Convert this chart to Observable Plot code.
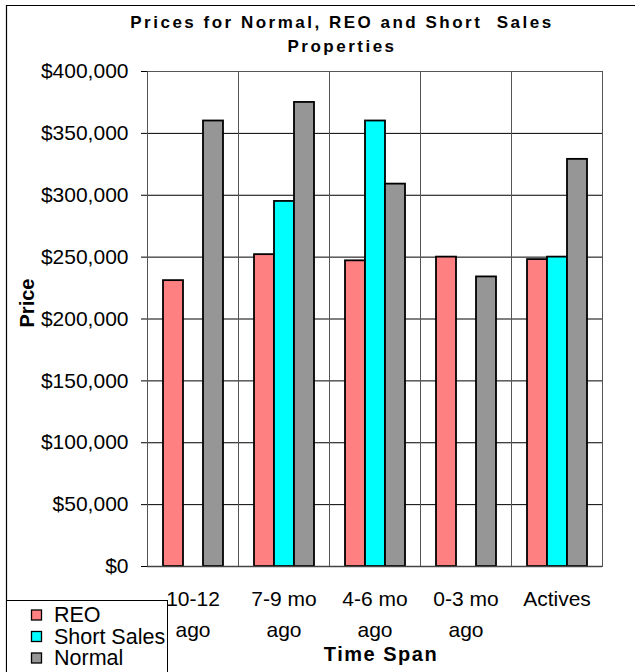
<!DOCTYPE html>
<html>
<head>
<meta charset="utf-8">
<script src="https://cdn.jsdelivr.net/npm/d3@7"></script>
<script src="https://cdn.jsdelivr.net/npm/@observablehq/plot@0.6"></script>
<style>
  html, body { margin: 0; padding: 0; background: #fff; }
  #wrap { position: relative; width: 635px; height: 672px; overflow: hidden; background: #fff; }
  #wrap svg { position: absolute; left: 0; top: 0; }
</style>
</head>
<body>
<div id="wrap"></div>
<script>
// ---- data ----
const categories = ["10-12 ago", "7-9 mo ago", "4-6 mo ago", "0-3 mo ago", "Actives"];
const tickLabels = ["10-12\nago", "7-9 mo\nago", "4-6 mo\nago", "0-3 mo\nago", "Actives"];
const series = ["REO", "Short Sales", "Normal"];
const reo = [231000, 252000, 247000, 250000, 248000];
const shortSales = [null, 295000, 360000, null, 250000];
const normal = [360000, 375000, 309000, 234000, 329000];
const colors = ["#FF8080", "#00FFFF", "#969696"];
const yTicks = [0, 50000, 100000, 150000, 200000, 250000, 300000, 350000, 400000];
const titleLines = ["Prices for Normal, REO and Short  Sales", "Properties"];
const xTitle = "Time Span";
const yTitle = "Price";

const valuesBySeries = [reo, shortSales, normal];
const rows = [];
categories.forEach((c, i) => {
  series.forEach((s, j) => {
    const v = valuesBySeries[j][i];
    if (v != null) rows.push({category: c, series: s, value: v});
  });
});

const font = "'Liberation Sans', Arial, sans-serif";

const chart = Plot.plot({
  width: 635,
  height: 672,
  marginLeft: 145,
  marginRight: 32,
  marginTop: 71,
  marginBottom: 106,
  style: {fontFamily: font, fontSize: "21px", color: "black", background: "transparent"},
  fx: {domain: categories, padding: 0, axis: null, label: null},
  x: {domain: series, paddingInner: 0, paddingOuter: 0.75, axis: null},
  y: {
    domain: [0, 400000],
    ticks: yTicks,
    tickFormat: d => "$" + d3.format(",")(d),
    tickSize: 6,
    tickPadding: 13,
    label: null
  },
  color: {domain: series, range: colors},
  marks: [
    Plot.ruleY(yTicks.filter(v => v > 0 && v < 400000), {stroke: "#000", strokeWidth: 1}),
    Plot.frame({stroke: "#555", strokeWidth: 1}),
    Plot.barY(rows, {
      fx: "category",
      x: "series",
      y: "value",
      fill: "series",
      stroke: "#000",
      strokeWidth: 1.8
    }),
    Plot.ruleY([0], {stroke: "#444", strokeWidth: 1.5}),
    Plot.text(categories, {
      fx: d => d,
      text: (d, i) => tickLabels[i],
      frameAnchor: "bottom",
      lineAnchor: "top",
      dy: 17,
      fontSize: 21,
      lineHeight: 1.48,
      fill: "#000"
    })
  ]
});

document.getElementById("wrap").appendChild(chart);

// ---- overlay: titles, border, legend ----
const ov = d3.select("#wrap").append("svg")
  .attr("width", 635).attr("height", 672)
  .style("pointer-events", "none")
  .style("font-family", font);

// outer chart border (left & top)
ov.append("path").attr("d", "M6.5,672 V5.5 H640").attr("fill", "none").attr("stroke", "#000").attr("stroke-width", 1.2);

// title
ov.selectAll("text.title").data(titleLines).join("text")
  .attr("class", "title")
  .attr("x", 342).attr("y", (d, i) => 28 + i * 24)
  .attr("text-anchor", "middle")
  .attr("font-weight", "bold").attr("font-size", 17)
  .attr("letter-spacing", 2.5)
  .style("white-space", "pre")
  .attr("xml:space", "preserve")
  .text(d => d);

// axis titles
ov.append("text")
  .attr("transform", "translate(34,303) rotate(-90)")
  .attr("text-anchor", "middle")
  .attr("font-weight", "bold").attr("font-size", 20)
  .text(yTitle);

ov.append("text")
  .attr("x", 381).attr("y", 661)
  .attr("text-anchor", "middle")
  .attr("font-weight", "bold").attr("font-size", 20)
  .attr("letter-spacing", 1.5)
  .text(xTitle);

// legend
const lg = ov.append("g");
lg.append("rect").attr("x", 6.5).attr("y", 600.5).attr("width", 161).attr("height", 90)
  .attr("fill", "#fff").attr("stroke", "#000").attr("stroke-width", 1);
const item = lg.selectAll("g.item").data(series).join("g")
  .attr("class", "item")
  .attr("transform", (d, i) => `translate(0,${622 + i * 21.5})`);
item.append("rect").attr("x", 31.5).attr("y", -12).attr("width", 10).attr("height", 10)
  .attr("fill", (d, i) => colors[i]).attr("stroke", "#000").attr("stroke-width", 1.3);
item.append("text").attr("x", 54).attr("y", 0).attr("font-size", 21.5).text(d => d);
</script>
</body>
</html>
